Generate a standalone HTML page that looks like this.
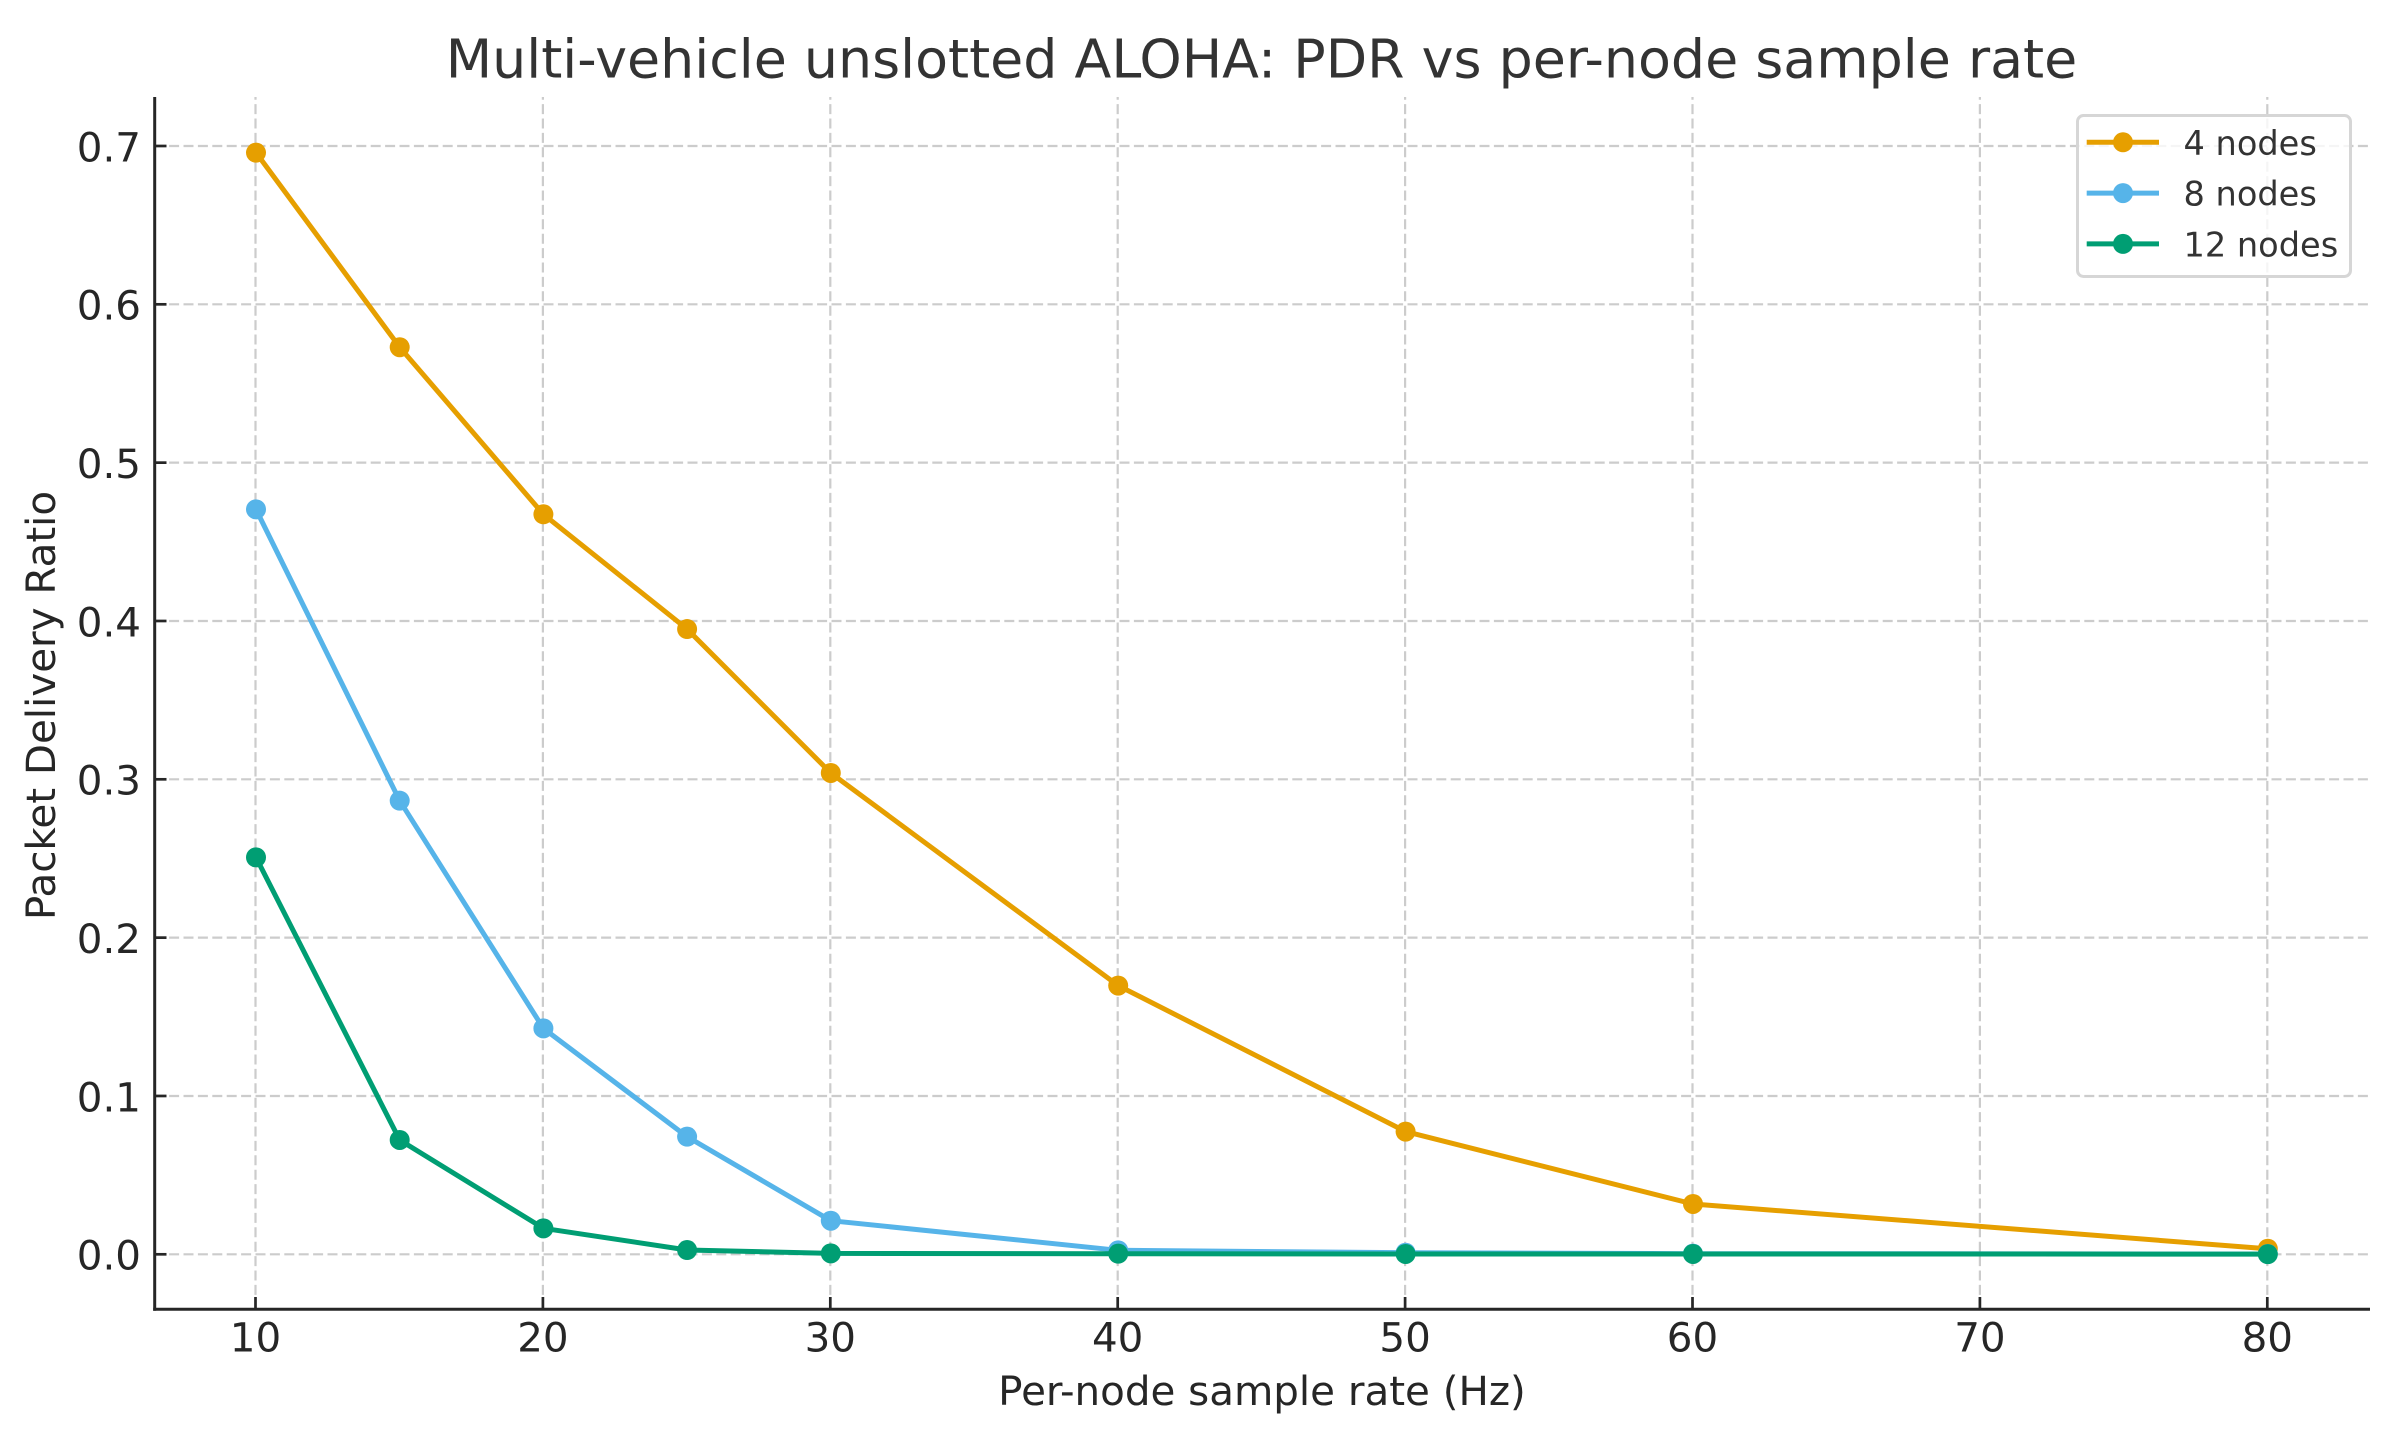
<!DOCTYPE html>
<html lang="en">
<head>
<meta charset="utf-8">
<title>Multi-vehicle unslotted ALOHA: PDR vs per-node sample rate</title>
<style>
html,body{margin:0;padding:0;background:#fff}
svg{display:block}
text{font-family:"DejaVu Sans","Liberation Sans",sans-serif}
</style>
</head>
<body>
<svg id="chart" xmlns="http://www.w3.org/2000/svg" width="2408" height="1435" viewBox="0 0 2408 1435">
<rect width="2408" height="1435" fill="#fff"/>
<g id="grid"></g>
<g id="series"></g>
<g id="axes">
<line x1="154.7" y1="97" x2="154.7" y2="1310.7" stroke="#262626" stroke-width="3"/>
<line x1="153.2" y1="1309.3" x2="2370" y2="1309.3" stroke="#262626" stroke-width="3"/>
</g>
<g id="x-ticks"></g>
<g id="y-ticks"></g>
<text x="1261.5" y="77.3" text-anchor="middle" font-size="53.8" fill="#333333">Multi-vehicle unslotted ALOHA: PDR vs per-node sample rate</text>
<text x="1262" y="1405" text-anchor="middle" font-size="40.4" fill="#262626">Per-node sample rate (Hz)</text>
<text transform="translate(55,705.5) rotate(-90)" text-anchor="middle" font-size="40.4" fill="#262626">Packet Delivery Ratio</text>
<g id="legend">
<rect x="2077.5" y="115.5" width="273" height="161" rx="6" ry="6" fill="#ffffff" fill-opacity="0.8" stroke="#d6d6d6" stroke-width="3"/>
</g>
</svg>
<script>
const rates = [10, 15, 20, 25, 30, 40, 50, 60, 80];
const nodes4 = [0.6958, 0.5729, 0.4674, 0.3949, 0.3040, 0.1697, 0.0775, 0.0318, 0.0035];
const nodes8 = [0.4705, 0.2865, 0.1427, 0.0743, 0.0212, 0.0025, 0.001, 0.0004, 0.0002];
const nodes12 = [0.2507, 0.0722, 0.0164, 0.0027, 0.0006, 0.0004, 0.0002, 0.0002, 0.0001];
const seriesNames = ['4 nodes', '8 nodes', '12 nodes'];
const seriesColors = ['#E69F00', '#56B4E9', '#009E73'];
const xTickValues = [10, 20, 30, 40, 50, 60, 70, 80];
const xTickLabels = ['10', '20', '30', '40', '50', '60', '70', '80'];
const yTickValues = [0, 0.1, 0.2, 0.3, 0.4, 0.5, 0.6, 0.7];
const yTickLabels = ['0.0', '0.1', '0.2', '0.3', '0.4', '0.5', '0.6', '0.7'];

const SVGNS = 'http://www.w3.org/2000/svg';
function xScale(v) { return 256 + (v - 10) * 28.74; }
function yScale(v) { return 1254.3 - v * 1583.3; }
function make(tag, attrs, parent) {
  const el = document.createElementNS(SVGNS, tag);
  for (const k in attrs) el.setAttribute(k, attrs[k]);
  parent.appendChild(el);
  return el;
}

const gridG = document.getElementById('grid');
const xTicksG = document.getElementById('x-ticks');
const yTicksG = document.getElementById('y-ticks');
const seriesG = document.getElementById('series');
const legendG = document.getElementById('legend');
const gridStyle = { stroke: '#cccccc', 'stroke-width': 2.2, 'stroke-dasharray': '10 4.4' };

xTickValues.forEach(function (v, i) {
  const x = xScale(v) - 0.5;
  const g = make('line', Object.assign({ x1: x, y1: 1309.3, x2: x, y2: 97 }, gridStyle), gridG);
  
  
  const t = make('line', { x1: x, y1: 1309.3, x2: x, y2: 1297, stroke: '#262626', 'stroke-width': 2.7 }, xTicksG);
  
  
  const l = make('text', { x: x, y: 1351.5, 'text-anchor': 'middle', 'font-size': 40.4, fill: '#262626' }, xTicksG);
  l.textContent = xTickLabels[i];
  
  
});

yTickValues.forEach(function (v, i) {
  const y = yScale(v);
  const g = make('line', Object.assign({ x1: 154.7, y1: y, x2: 2368, y2: y }, gridStyle), gridG);
  
  
  const t = make('line', { x1: 154.7, y1: y, x2: 166.5, y2: y, stroke: '#262626', 'stroke-width': 2.7 }, yTicksG);
  
  
  const l = make('text', { x: 141, y: y + 15.3, 'text-anchor': 'end', 'font-size': 40.4, fill: '#262626' }, yTicksG);
  l.textContent = yTickLabels[i];
  
  
});

[nodes4, nodes8, nodes12].forEach(function (vals, s) {
  const color = seriesColors[s];
  const pts = vals.map(function (v, i) { return xScale(rates[i]).toFixed(1) + ',' + yScale(v).toFixed(1); }).join(' ');
  const group = make('g', {}, seriesG);
  
  
  const pl = make('polyline', { points: pts, fill: 'none', stroke: color, 'stroke-width': 5, 'stroke-linejoin': 'round', 'stroke-linecap': 'square' }, group);
  
  
  vals.forEach(function (v, i) {
    const c = make('circle', { cx: xScale(rates[i]), cy: yScale(v), r: 10, fill: color }, group);
    
    
  });

  const ly = 142.3 + s * 50.8;
  const entry = make('g', {}, legendG);
  
  
  const ll = make('line', { x1: 2086.7, y1: ly, x2: 2159, y2: ly, stroke: color, 'stroke-width': 5 }, entry);
  
  
  const lc = make('circle', { cx: 2123, cy: ly, r: 10, fill: color }, entry);
  
  
  const lt = make('text', { x: 2183.5, y: ly + 12.5, 'font-size': 33.6, fill: '#333333' }, entry);
  lt.textContent = seriesNames[s];
  
  
});
</script>
</body>
</html>
